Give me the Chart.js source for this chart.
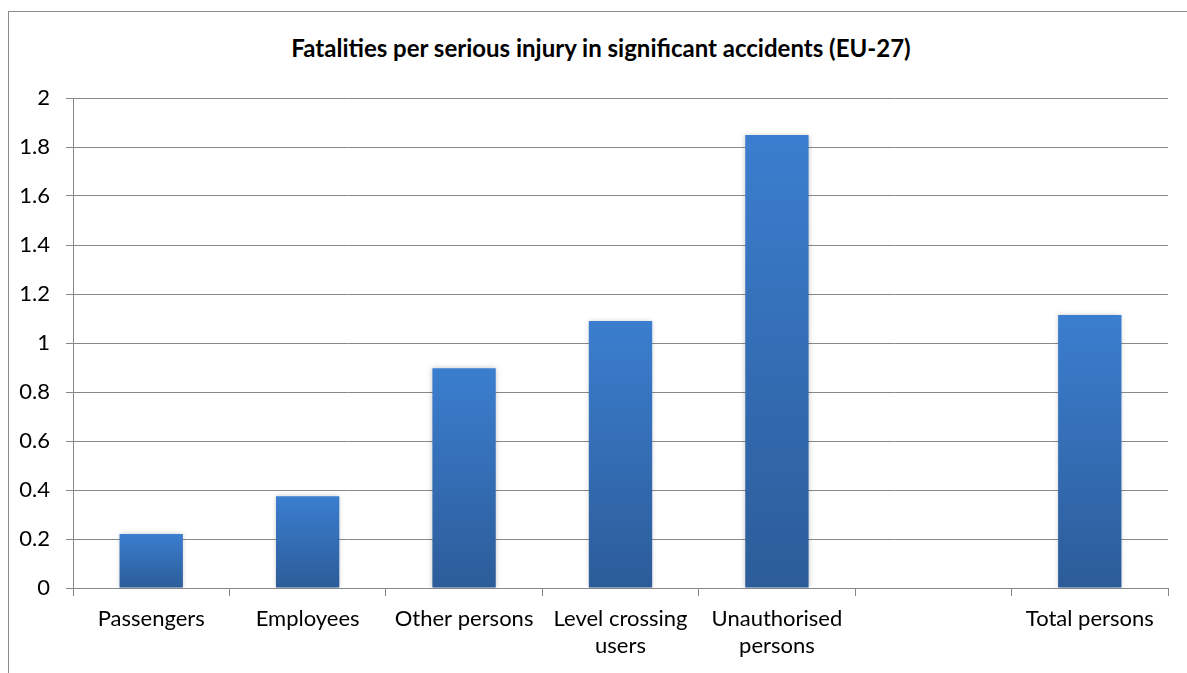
<!DOCTYPE html>
<html>
<head>
<meta charset="utf-8">
<script src="https://cdn.jsdelivr.net/npm/chart.js@4/dist/chart.umd.min.js"></script>
<style>
  html, body { margin: 0; padding: 0; background: #ffffff; overflow: hidden; }
  #frame {
    position: absolute; left: 8px; top: 11px;
    width: 1300px; height: 800px;
    border: 1px solid #8a8a8a;
  }
  #chart { position: absolute; left: 0; top: 0; }
  #title {
    position: absolute; left: 0; top: 34px; width: 1202px;
    text-align: center;
    font: bold 24px/28px Lato, "Open Sans", sans-serif;
    color: #000000;
  }
</style>
</head>
<body>
<div id="frame"></div>
<div id="title"></div>
<canvas id="chart" width="1187" height="673"></canvas>
<script>
// Chart data
const categories = [
  "Passengers",
  "Employees",
  "Other persons",
  ["Level crossing", "users"],
  ["Unauthorised", "persons"],
  "",
  "Total persons"
];
const fatalitiesPerInjury = [0.22, 0.375, 0.897, 1.09, 1.849, null, 1.114];
const yTicks = { min: 0, max: 2, step: 0.2 };

const chartTitle = "Fatalities per serious injury in significant accidents (EU-27)";
const FONT = "Lato, 'Open Sans', sans-serif";
const GRID = "#888888";

document.getElementById("title").textContent = chartTitle;

// Per-bar vertical gradient (light blue top, darker bottom)
function barGradient(context) {
  const chart = context.chart;
  const yScale = chart.scales.y;
  if (!yScale || !chart.chartArea || context.raw == null) return "#3a7dcc";
  const top = yScale.getPixelForValue(context.raw);
  const bottom = yScale.getPixelForValue(0);
  if (!isFinite(top) || !isFinite(bottom)) return "#3a7dcc";
  const g = chart.ctx.createLinearGradient(0, top, 0, bottom);
  g.addColorStop(0, "#3b7ecf");
  g.addColorStop(1, "#2c5c99");
  return g;
}

// soft shadow around bars, like the office chart
const barShadow = {
  id: "barShadow",
  beforeDatasetDraw(chart) {
    const ctx = chart.ctx;
    ctx.save();
    ctx.shadowColor = "rgba(0,0,0,0.22)";
    ctx.shadowBlur = 5;
    ctx.shadowOffsetX = 0;
    ctx.shadowOffsetY = 0;
  },
  afterDatasetDraw(chart) {
    chart.ctx.restore();
  }
};

new Chart(document.getElementById("chart").getContext("2d"), {
  type: "bar",
  data: {
    labels: categories,
    datasets: [{
      data: fatalitiesPerInjury,
      backgroundColor: barGradient,
      borderWidth: 0,
      barPercentage: 1,
      categoryPercentage: 0.405
    }]
  },
  plugins: [barShadow],
  options: {
    responsive: false,
    animation: false,
    layout: { padding: { left: 0, right: 19, top: 98, bottom: 0 } },
    plugins: {
      legend: { display: false },
      tooltip: { enabled: false },
      title: { display: false }
    },
    scales: {
      x: {
        grid: {
          display: true,
          drawOnChartArea: false,
          drawTicks: true,
          tickLength: 8,
          color: GRID,
          offset: true
        },
        border: { display: true, color: GRID, width: 1 },
        ticks: {
          color: "#000000",
          padding: 9,
          maxRotation: 0,
          autoSkip: false,
          font: { family: FONT, size: 22, lineHeight: 1.23 }
        },
        afterFit(scale) { scale.height = 85; }
      },
      y: {
        min: yTicks.min,
        max: yTicks.max,
        grid: {
          color: GRID,
          lineWidth: 1,
          tickLength: 7,
          drawTicks: true
        },
        border: { display: true, color: GRID, width: 1 },
        ticks: {
          stepSize: yTicks.step,
          color: "#000000",
          padding: 16,
          font: { family: FONT, size: 22 },
          callback: (v) => String(Math.round(v * 10) / 10)
        },
        afterFit(scale) { scale.width = 73; }
      }
    }
  }
});
</script>
</body>
</html>
